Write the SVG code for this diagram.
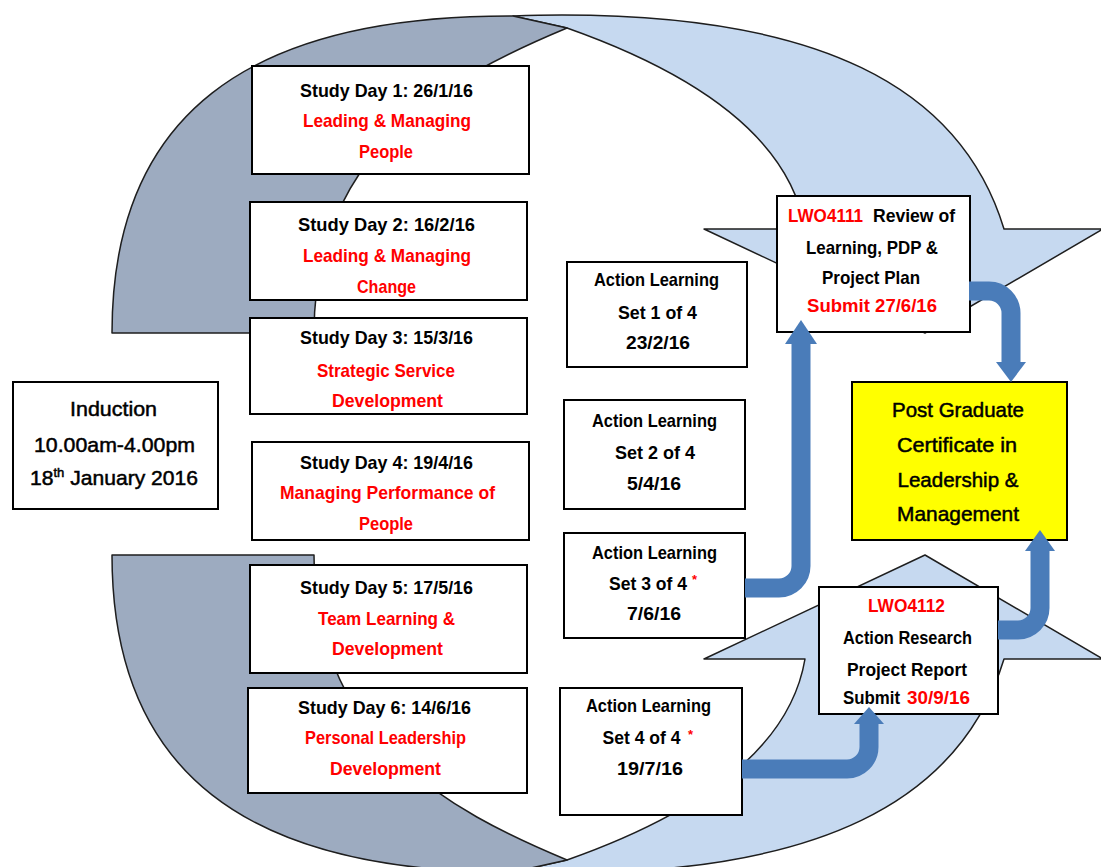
<svg xmlns="http://www.w3.org/2000/svg" xmlns:xlink="http://www.w3.org/1999/xlink" width="1101" height="867" viewBox="0 0 1101 867">
  <style>
    .box{fill:#ffffff;stroke:#000000;stroke-width:2}
    .goal{fill:#ffff00;stroke:#000000;stroke-width:2}
    .t{font-family:"Liberation Sans",Arial,sans-serif;font-weight:bold;font-size:19px;text-anchor:middle;fill:#000000}
    .s{text-anchor:start}
    .r{fill:#ff0000}
    .star{font-size:13px}
    .big{font-family:"Liberation Sans",Arial,sans-serif;font-size:21px;text-anchor:middle;fill:#000000;stroke:#000000;stroke-width:0.5}
    .back{fill:#9dabc0;stroke:#1e1e1e;stroke-width:1.5;stroke-linejoin:round}
    .front{fill:#c6d9f0;stroke:#1e1e1e;stroke-width:1.5;stroke-linejoin:round}
    .flow{fill:none;stroke:#4a7cb9;stroke-width:19}
    .head{fill:#4a7cb9}
  </style>
  <defs>
    <!-- curved band: light front face with arrowhead, darker back face on the left leg -->
    <g id="curved-band">
      <path class="front" d="M513,16 Q540,15 562,15 C815,15 960,84 1004,229 H1103 L925,333 L704,229 H805 C790,140 700,75 567,28 Z"/>
      <path class="back" d="M112,333 C112,117 245,15 513,16 L567,28 C447,78 314,150 314,333 Z"/>
    </g>
  </defs>

  <g id="backdrop">
    <use xlink:href="#curved-band"/>
    <use xlink:href="#curved-band" transform="matrix(1 0 0 -1 0 888)"/>
  </g>

  <g id="induction">
    <rect class="box" x="13" y="382" width="205" height="127"/>
    <text class="big" x="113.5" y="416" textLength="87" lengthAdjust="spacingAndGlyphs">Induction</text>
    <text class="big" x="114.5" y="452" textLength="161" lengthAdjust="spacingAndGlyphs">10.00am-4.00pm</text>
    <text class="big" x="114" y="485" textLength="168" lengthAdjust="spacingAndGlyphs">18<tspan font-size="13" dy="-8">th</tspan><tspan dy="8"> January 2016</tspan></text>
  </g>

  <g id="study-day-1">
    <rect class="box" x="252" y="66" width="277" height="108"/>
    <text class="t" x="386.5" y="96.5" textLength="173" lengthAdjust="spacingAndGlyphs">Study Day 1: 26/1/16</text>
    <text class="t r" x="387" y="127" textLength="168" lengthAdjust="spacingAndGlyphs">Leading &amp; Managing</text>
    <text class="t r" x="386" y="157.5" textLength="54" lengthAdjust="spacingAndGlyphs">People</text>
  </g>

  <g id="study-day-2">
    <rect class="box" x="250" y="202" width="277" height="98"/>
    <text class="t" x="386.5" y="230.5" textLength="177" lengthAdjust="spacingAndGlyphs">Study Day 2:  16/2/16</text>
    <text class="t r" x="387" y="262" textLength="168" lengthAdjust="spacingAndGlyphs">Leading &amp; Managing</text>
    <text class="t r" x="386.5" y="293" textLength="59" lengthAdjust="spacingAndGlyphs">Change</text>
  </g>

  <g id="study-day-3">
    <rect class="box" x="250" y="318" width="277" height="96"/>
    <text class="t" x="386.5" y="343.5" textLength="173" lengthAdjust="spacingAndGlyphs">Study Day 3: 15/3/16</text>
    <text class="t r" x="386" y="376.5" textLength="138" lengthAdjust="spacingAndGlyphs">Strategic Service</text>
    <text class="t r" x="387.5" y="406.5" textLength="111" lengthAdjust="spacingAndGlyphs">Development</text>
  </g>

  <g id="study-day-4">
    <rect class="box" x="252" y="442" width="277" height="98"/>
    <text class="t" x="386.5" y="468.5" textLength="173" lengthAdjust="spacingAndGlyphs">Study Day 4: 19/4/16</text>
    <text class="t r" x="387.5" y="498.5" textLength="215" lengthAdjust="spacingAndGlyphs">Managing Performance of</text>
    <text class="t r" x="386" y="530" textLength="54" lengthAdjust="spacingAndGlyphs">People</text>
  </g>

  <g id="study-day-5">
    <rect class="box" x="250" y="565" width="277" height="108"/>
    <text class="t" x="386.5" y="593.5" textLength="173" lengthAdjust="spacingAndGlyphs">Study Day 5: 17/5/16</text>
    <text class="t r" x="386.5" y="625" textLength="137" lengthAdjust="spacingAndGlyphs">Team Learning &amp;</text>
    <text class="t r" x="387.5" y="655" textLength="111" lengthAdjust="spacingAndGlyphs">Development</text>
  </g>

  <g id="study-day-6">
    <rect class="box" x="248" y="688" width="279" height="105"/>
    <text class="t" x="384.5" y="713.5" textLength="173" lengthAdjust="spacingAndGlyphs">Study Day 6: 14/6/16</text>
    <text class="t r" x="385.5" y="743.5" textLength="161" lengthAdjust="spacingAndGlyphs">Personal Leadership</text>
    <text class="t r" x="385.5" y="775" textLength="111" lengthAdjust="spacingAndGlyphs">Development</text>
  </g>

  <g id="action-learning-1">
    <rect class="box" x="567" y="262" width="180" height="105"/>
    <text class="t" x="656.5" y="285.5" textLength="125" lengthAdjust="spacingAndGlyphs">Action Learning</text>
    <text class="t" x="657.5" y="318.5" textLength="79" lengthAdjust="spacingAndGlyphs">Set 1 of 4</text>
    <text class="t" x="658" y="348.5" textLength="64" lengthAdjust="spacingAndGlyphs">23/2/16</text>
  </g>

  <g id="action-learning-2">
    <rect class="box" x="564" y="400" width="181" height="109"/>
    <text class="t" x="654.5" y="427" textLength="125" lengthAdjust="spacingAndGlyphs">Action Learning</text>
    <text class="t" x="655" y="458.5" textLength="80" lengthAdjust="spacingAndGlyphs">Set 2 of 4</text>
    <text class="t" x="654" y="490" textLength="54" lengthAdjust="spacingAndGlyphs">5/4/16</text>
  </g>

  <g id="action-learning-3">
    <rect class="box" x="564" y="533" width="181" height="105"/>
    <text class="t" x="654.5" y="558.5" textLength="125" lengthAdjust="spacingAndGlyphs">Action Learning</text>
    <text class="t" x="648" y="590" textLength="78" lengthAdjust="spacingAndGlyphs">Set 3 of 4</text>
    <text class="t s r star" x="692" y="584">*</text>
    <text class="t" x="654" y="620" textLength="54" lengthAdjust="spacingAndGlyphs">7/6/16</text>
  </g>

  <g id="action-learning-4">
    <rect class="box" x="560" y="688" width="182" height="127"/>
    <text class="t" x="648.5" y="712" textLength="125" lengthAdjust="spacingAndGlyphs">Action Learning</text>
    <text class="t" x="641.5" y="743.5" textLength="78" lengthAdjust="spacingAndGlyphs">Set 4 of 4</text>
    <text class="t s r star" x="688" y="738.5">*</text>
    <text class="t" x="650" y="775" textLength="66" lengthAdjust="spacingAndGlyphs">19/7/16</text>
  </g>

  <g id="review-lwo4111">
    <rect class="box" x="777" y="196" width="193" height="136"/>
    <text class="t s r" x="788" y="221.5" textLength="75" lengthAdjust="spacingAndGlyphs">LWO4111</text>
    <text class="t s" x="873" y="221.5" textLength="82" lengthAdjust="spacingAndGlyphs">Review of</text>
    <text class="t" x="872" y="253.5" textLength="132" lengthAdjust="spacingAndGlyphs">Learning, PDP &amp;</text>
    <text class="t" x="871" y="283.5" textLength="98" lengthAdjust="spacingAndGlyphs">Project Plan</text>
    <text class="t r" x="872" y="311.5" textLength="130" lengthAdjust="spacingAndGlyphs">Submit 27/6/16</text>
  </g>

  <g id="report-lwo4112">
    <rect class="box" x="819" y="587" width="179" height="127"/>
    <text class="t r" x="906.5" y="611.5" textLength="77" lengthAdjust="spacingAndGlyphs">LWO4112</text>
    <text class="t" x="907.5" y="643.5" textLength="129" lengthAdjust="spacingAndGlyphs">Action Research</text>
    <text class="t" x="907" y="675.5" textLength="120" lengthAdjust="spacingAndGlyphs">Project Report</text>
    <text class="t s" x="843" y="703.5" textLength="57" lengthAdjust="spacingAndGlyphs">Submit</text>
    <text class="t s r" x="907" y="703.5" textLength="63" lengthAdjust="spacingAndGlyphs">30/9/16</text>
  </g>

  <g id="certificate">
    <rect class="goal" x="852" y="382" width="215" height="158"/>
    <text class="big" x="958" y="417" textLength="132" lengthAdjust="spacingAndGlyphs">Post Graduate</text>
    <text class="big" x="957" y="452" textLength="120" lengthAdjust="spacingAndGlyphs">Certificate in</text>
    <text class="big" x="958" y="487" textLength="121" lengthAdjust="spacingAndGlyphs">Leadership &amp;</text>
    <text class="big" x="958" y="521" textLength="122" lengthAdjust="spacingAndGlyphs">Management</text>
  </g>

  <g id="connectors">
    <path class="flow" d="M745,588 H779 A22,22 0 0 0 801,566 V344"/>
    <polygon class="head" points="785,344 801,320 817,344"/>
    <path class="flow" d="M969,291 H989 A22,22 0 0 1 1011,313 V363"/>
    <polygon class="head" points="996,362 1011,382 1026,362"/>
    <path class="flow" d="M998,630 H1018 A22,22 0 0 0 1040,608 V550"/>
    <polygon class="head" points="1025,551 1040,530 1055,551"/>
    <path class="flow" d="M742,769 H847 A22,22 0 0 0 869,747 V724"/>
    <polygon class="head" points="854,724 869,707 884,724"/>
  </g>
</svg>
